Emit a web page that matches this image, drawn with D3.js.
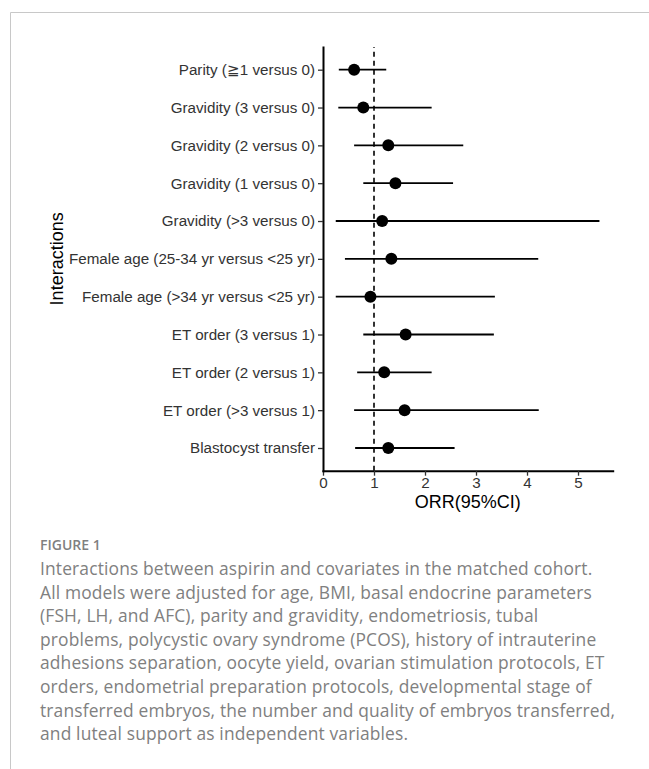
<!DOCTYPE html>
<html>
<head>
<meta charset="utf-8">
<script src="https://cdn.jsdelivr.net/npm/d3@7"></script>
<style>
  body { margin: 0; background: #fff; }
  svg { display: block; }
</style>
</head>
<body>
<svg id="drawing_region"></svg>
<script>
// values
const labels = [
    "Parity (\u22671 versus 0)",
    "Gravidity (3 versus 0)",
    "Gravidity (2 versus 0)",
    "Gravidity (1 versus 0)",
    "Gravidity (>3 versus 0)",
    "Female age (25-34 yr versus <25 yr)",
    "Female age (>34 yr versus <25 yr)",
    "ET order (3 versus 1)",
    "ET order (2 versus 1)",
    "ET order (>3 versus 1)",
    "Blastocyst transfer"
];
const orr   = [0.61, 0.79, 1.28, 1.42, 1.16, 1.34, 0.93, 1.62, 1.20, 1.60, 1.28];
const lower = [0.31, 0.30, 0.61, 0.79, 0.25, 0.43, 0.25, 0.79, 0.67, 0.61, 0.63];
const upper = [1.24, 2.13, 2.75, 2.55, 5.42, 4.22, 3.37, 3.35, 2.13, 4.23, 2.58];
const xTicks = [0, 1, 2, 3, 4, 5];
const refValue = 1;

const captionTitle = "FIGURE 1";
const captionLines = [
    "Interactions between aspirin and covariates in the matched cohort.",
    "All models were adjusted for age, BMI, basal endocrine parameters",
    "(FSH, LH, and AFC), parity and gravidity, endometriosis, tubal",
    "problems, polycystic ovary syndrome (PCOS), history of intrauterine",
    "adhesions separation, oocyte yield, ovarian stimulation protocols, ET",
    "orders, endometrial preparation protocols, developmental stage of",
    "transferred embryos, the number and quality of embryos transferred,",
    "and luteal support as independent variables."
];

const data = labels.map((l, i) => ({ label: l, orr: orr[i], lower: lower[i], upper: upper[i] }));

class ForestPlot {

    constructor( config, data ) {
        this.config = {
            parent: config.parent,
            width: config.width || 649,
            height: config.height || 769,
            margin: config.margin
        }
        this.data = data;
        this.init();
    }

    init() {
        let self = this;
        const m = self.config.margin;

        self.svg = d3.select( self.config.parent )
            .attr('width', self.config.width)
            .attr('height', self.config.height);

        self.svg.append('rect')
            .attr('width', self.config.width)
            .attr('height', self.config.height)
            .attr('fill', '#fff');

        // card frame
        self.svg.append('path')
            .attr('d', `M10.5,${self.config.height} V12.5 H${self.config.width}`)
            .attr('fill', 'none')
            .attr('stroke', '#c8c8c8')
            .attr('stroke-width', 1);

        self.xscale = d3.scaleLinear()
            .domain([0, 5.68])
            .range([m.left, m.right]);

        self.yscale = d3.scalePoint()
            .domain(labels)
            .range([m.top, m.bottom])
            .padding(0.6);

        self.chart = self.svg.append('g');
    }

    update() {
        let self = this;
        self.render();
    }

    render() {
        let self = this;
        const m = self.config.margin;
        const font = '"Liberation Sans", Arial, sans-serif';

        // reference line
        self.chart.append('line')
            .attr('x1', self.xscale(refValue))
            .attr('x2', self.xscale(refValue))
            .attr('y1', m.bottom)
            .attr('y2', m.top)
            .attr('stroke', '#000')
            .attr('stroke-width', 1.6)
            .attr('stroke-dasharray', '5,4');

        // CI segments
        self.chart.selectAll('.ci')
            .data(self.data)
            .join('line')
            .attr('class', 'ci')
            .attr('x1', d => self.xscale(d.lower))
            .attr('x2', d => self.xscale(d.upper))
            .attr('y1', d => self.yscale(d.label))
            .attr('y2', d => self.yscale(d.label))
            .attr('stroke', '#000')
            .attr('stroke-width', 1.8);

        self.chart.selectAll('.pt')
            .data(self.data)
            .join('circle')
            .attr('class', 'pt')
            .attr('cx', d => self.xscale(d.orr))
            .attr('cy', d => self.yscale(d.label))
            .attr('r', 6)
            .attr('fill', '#000');

        // axes
        const xAxis = self.chart.append('g')
            .attr('transform', `translate(0,${m.bottom})`)
            .call(d3.axisBottom(self.xscale).tickValues(xTicks).tickFormat(d3.format('d'))
                .tickSize(5).tickSizeOuter(0).tickPadding(2));

        const yAxis = self.chart.append('g')
            .attr('transform', `translate(${m.left},0)`)
            .call(d3.axisLeft(self.yscale).tickSize(5).tickSizeOuter(0).tickPadding(3));

        [xAxis, yAxis].forEach(ax => {
            ax.select('.domain').attr('stroke', '#000').attr('stroke-width', 2).attr('stroke-linecap', 'square');
            ax.selectAll('.tick line').attr('stroke', '#333').attr('stroke-width', 1.3);
            ax.selectAll('.tick text')
                .attr('fill', '#333')
                .style('font-family', font)
                .style('font-size', '15.2px');
        });

        // axis titles
        self.chart.append('text')
            .attr('x', (m.left + m.right) / 2)
            .attr('y', m.bottom + 37)
            .attr('text-anchor', 'middle')
            .style('font-family', font)
            .style('font-size', '18px')
            .attr('fill', '#000')
            .text('ORR(95%CI)');

        self.chart.append('text')
            .attr('transform', `translate(63,${(m.top + m.bottom) / 2}) rotate(-90)`)
            .attr('text-anchor', 'middle')
            .style('font-family', font)
            .style('font-size', '18px')
            .attr('fill', '#000')
            .text('Interactions');

        // caption
        const cap = self.svg.append('g')
            .style('font-family', '"Open Sans", "Noto Sans", sans-serif')
            .attr('fill', '#808080');

        cap.append('text')
            .attr('x', 40)
            .attr('y', 550)
            .style('font-size', '14px')
            .style('font-weight', 600)
            .text(captionTitle);

        cap.selectAll('.capline')
            .data(captionLines)
            .join('text')
            .attr('class', 'capline')
            .attr('x', 40)
            .attr('y', (d, i) => 575 + i * 23.6)
            .style('font-size', '17.4px')
            .style('letter-spacing', '0.15px')
            .text(d => d);
    }
}

var config = {
    parent: '#drawing_region',
    width: 649,
    height: 769,
    margin: { top: 47, bottom: 470.7, left: 323, right: 612.7 }
};

const forest = new ForestPlot( config, data );
forest.update();
</script>
</body>
</html>
